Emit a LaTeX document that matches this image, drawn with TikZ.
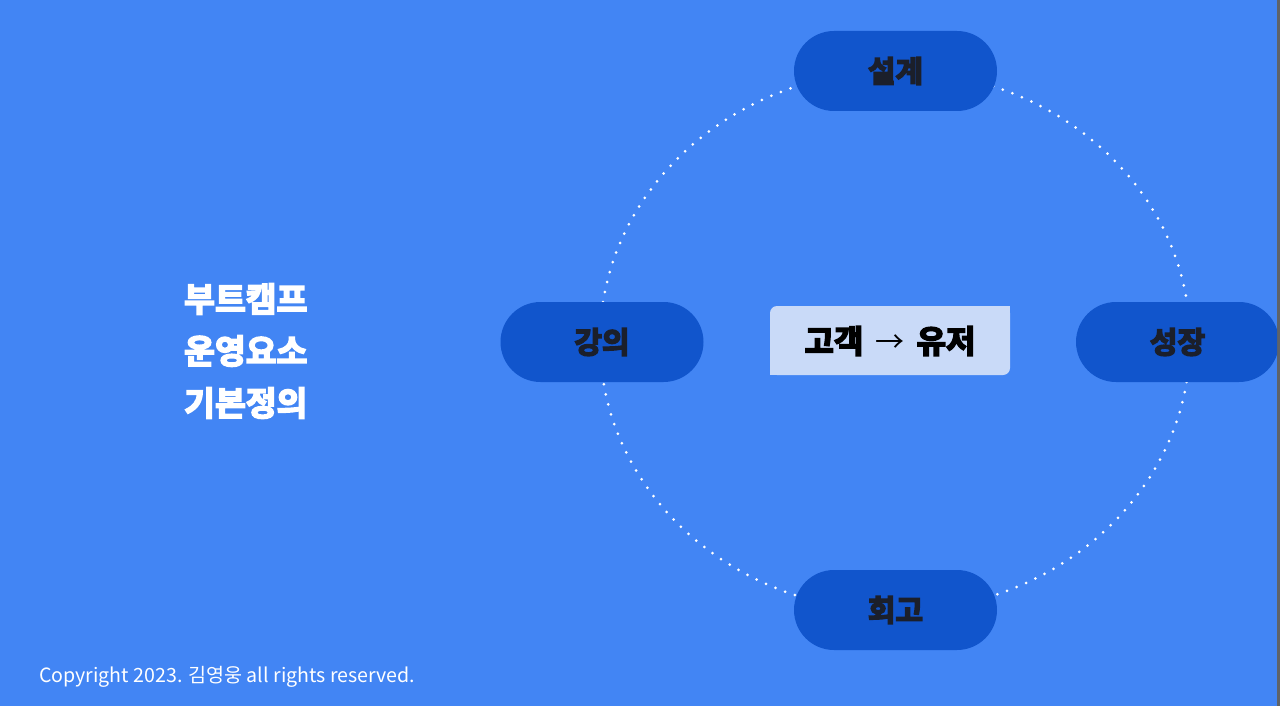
\documentclass[tikz,border=0pt]{standalone}
\usepackage{fontspec}
\newfontfamily\krfont{Noto Sans CJK KR}
\newfontfamily\krheavy{Noto Sans CJK KR Bold}[FakeBold=5]
\definecolor{bg}{HTML}{4285F4}
\definecolor{pillc}{HTML}{1155CC}
\definecolor{lightc}{HTML}{C9DAF8}
\definecolor{inkc}{HTML}{1B1F2B}
\definecolor{edgec}{HTML}{5F6368}
\begin{document}
\begin{tikzpicture}[x=1pt,y=-1pt,
  pill/.style={fill=pillc, rounded corners=40pt, minimum width=203pt, minimum height=80pt, inner sep=0pt, text=inkc, font=\fontsize{30}{34}\selectfont\krheavy},
  lefttext/.style={text=white, font=\fontsize{33.5}{36}\selectfont\krheavy, anchor=west, inner sep=0pt},
  ring/.style={draw=white, line width=3pt, line cap=round, dash pattern=on 0pt off 10.3pt}]
\useasboundingbox (0,0) rectangle (1280,706);
\fill[bg] (0,0) rectangle (1280,706);
\fill[edgec] (1277,0) rectangle (1280,706);
\draw[ring] (895,341) ellipse [x radius=295, y radius=270];
\node[pill] (top) at (895.5,71) {설계};
\node[pill] (left) at (602,342) {강의};
\begin{scope}
\clip (0,0) rectangle (1277,706);
\node[pill] (right) at (1177.5,342) {성장};
\end{scope}
\node[pill] (bottom) at (895.5,610) {회고};
\fill[lightc, rounded corners=7pt] (770,306) rectangle (1010,375);
\fill[lightc] (990,306) rectangle (1010,330);
\fill[lightc] (770,355) rectangle (790,375);
\node[inner sep=0pt, text=black, font=\fontsize{32}{34}\selectfont\krheavy] (center) at (890,341) {고객 {\krfont\fontsize{29}{32}\selectfont\,→\,} 유저};
\node[lefttext] (t1) at (184,299) {부트캠프};
\node[lefttext] (t2) at (184,351) {운영요소};
\node[lefttext] (t3) at (184,403) {기본정의};
\node[text=white, anchor=west, inner sep=0pt, font=\fontsize{19.6}{22}\selectfont\krfont] (copy) at (39,677) {Copyright 2023. 김영웅 all rights reserved.};
\end{tikzpicture}
\end{document}
